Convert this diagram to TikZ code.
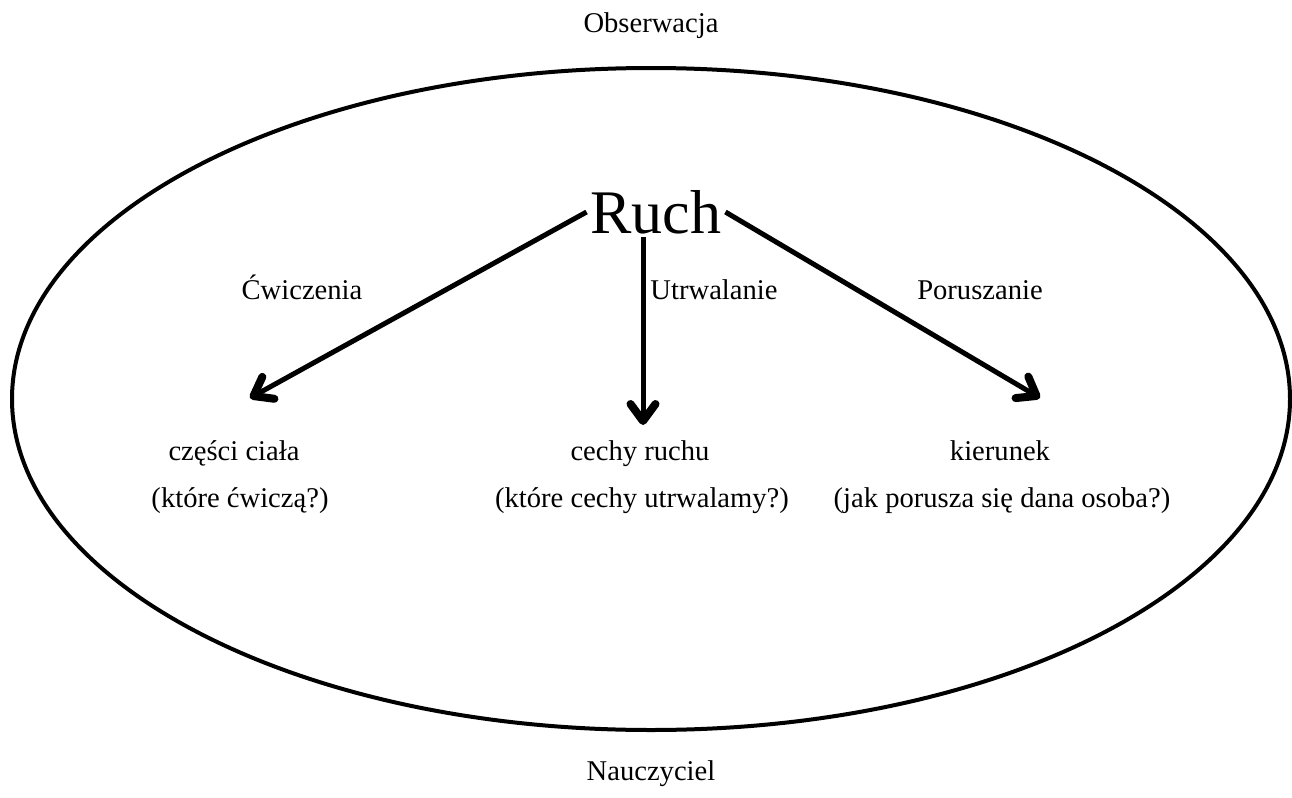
\documentclass[tikz,border=0pt]{standalone}
\usepackage{fontspec}
\setmainfont{Liberation Serif}
\usetikzlibrary{arrows.meta}
\tikzset{every node/.style={font=\fontsize{14.3}{17}\selectfont, text height=10pt, text depth=3pt}}

\begin{document}
\begin{tikzpicture}[x=0.5pt, y=-0.5pt, line width=2pt,
    >={Straight Barb[length=8.5pt,width=12.5pt,line width=4pt,round]}]
      \useasboundingbox (0,0) rectangle (1292,798);
      % outer ellipse
      \draw (651,399) ellipse [x radius=319.5pt, y radius=165.5pt];
      \node (obs) at (651,25) {Obserwacja};
      \node (nau) at (651,773) {Nauczyciel};

      \node[font=\fontsize{31}{36}\selectfont, text height=, text depth=, inner sep=1pt] (ruch) at (656,212) {Ruch};
      \coordinate (ruchs) at (643,237);

      \coordinate (lend) at (250,398);
      \coordinate (mend) at (643,425);
      \coordinate (rend) at (1040,398);

      \draw[->, line width=2.5pt] (ruch.west) -- (lend);
      \draw[->, line width=2.5pt] (ruchs) -- (mend);
      \draw[->, line width=2.5pt] (ruch.east) -- (rend);

      \node (cw) at (302,292) {Ćwiczenia};
      \node (ut) at (714,292) {Utrwalanie};
      \node (po) at (980,292) {Poruszanie};

      \node (czc) at (234,453) {części ciała};
      \node (czp) at (240,500) {(które ćwiczą?)};
      \node (cr) at (640,453) {cechy ruchu};
      \node (crp) at (642,500) {(które cechy utrwalamy?)};
      \node (ki) at (1000,453) {kierunek};
      \node (kip) at (1002,500) {(jak porusza się dana osoba?)};
    \end{tikzpicture}
\end{document}
